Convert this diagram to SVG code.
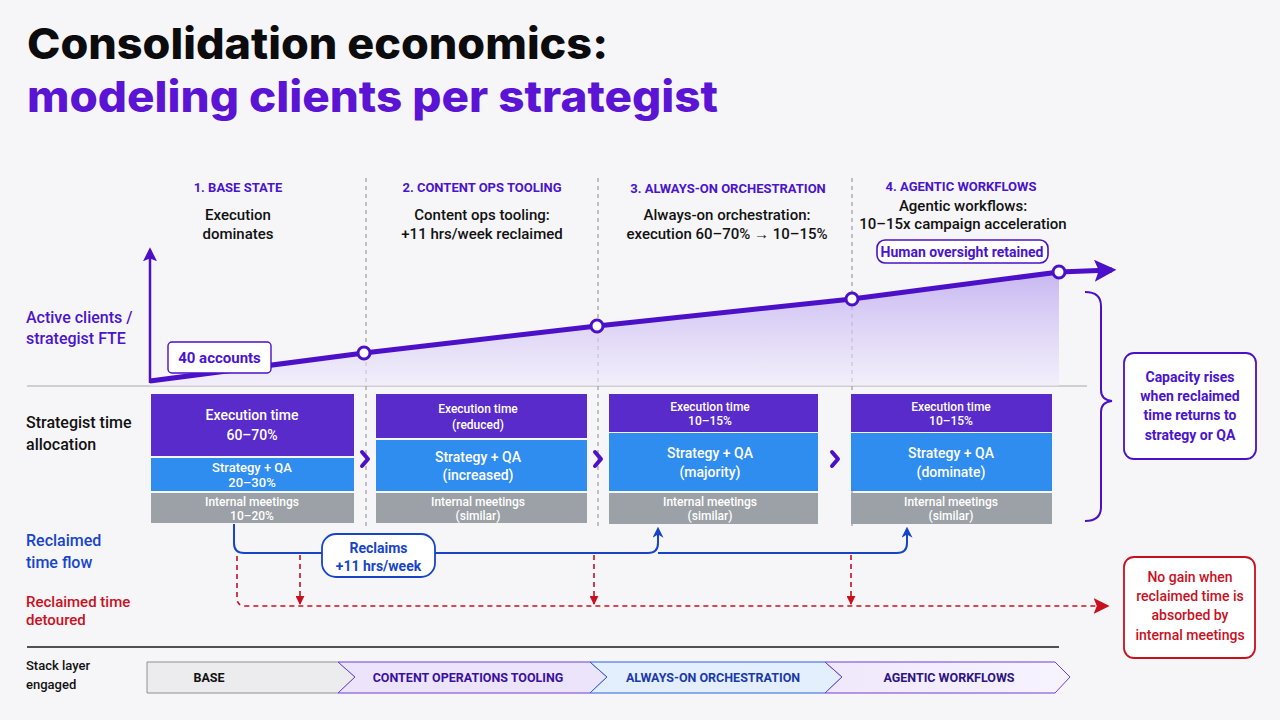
<svg xmlns="http://www.w3.org/2000/svg" width="1280" height="720" viewBox="0 0 1280 720">
<defs>
<linearGradient id="area" x1="0" y1="0" x2="0" y2="1">
<stop offset="0" stop-color="#b9a2ef" stop-opacity="0.75"/>
<stop offset="1" stop-color="#efeafb" stop-opacity="0.6"/>
</linearGradient>
<linearGradient id="agf" x1="0" y1="0" x2="1" y2="0">
<stop offset="0" stop-color="#efe8fc"/>
<stop offset="1" stop-color="#f7f3fe"/>
</linearGradient>
<marker id="mBlue" viewBox="0 0 10 10" refX="7" refY="5" markerWidth="11" markerHeight="11" orient="auto" markerUnits="userSpaceOnUse">
<path d="M0,0 L10,5 L0,10 L3,5 z" fill="#1744c8"/>
</marker>
<marker id="mRed" viewBox="0 0 10 10" refX="9" refY="5" markerWidth="9" markerHeight="9" orient="auto" markerUnits="userSpaceOnUse">
<path d="M0,0 L10,5 L0,10 z" fill="#c8101e"/>
</marker>
<marker id="mRedBig" viewBox="0 0 10 10" refX="9" refY="5" markerWidth="16" markerHeight="16" orient="auto" markerUnits="userSpaceOnUse">
<path d="M0,0 L10,5 L0,10 L2,5 z" fill="#c8101e"/>
</marker>
<marker id="mPurple" viewBox="0 0 10 10" refX="8" refY="5" markerWidth="22" markerHeight="22" orient="auto" markerUnits="userSpaceOnUse">
<path d="M0,0 L10,5 L0,10 L2,5 z" fill="#4b10c8"/>
</marker>
<marker id="mAxis" viewBox="0 0 10 10" refX="8" refY="5" markerWidth="14" markerHeight="14" orient="auto" markerUnits="userSpaceOnUse">
<path d="M0,0 L10,5 L0,10 L2,5 z" fill="#4b10c8"/>
</marker>
<style>
text{font-family:Roboto,"Liberation Sans",sans-serif}
.t1{font-family:Inter,"Liberation Sans",sans-serif;font-weight:800;font-size:43px}
.stage{font-weight:700;font-size:13px;fill:#4a14cc;text-anchor:middle}
.sub{font-size:15px;fill:#111;text-anchor:middle;font-weight:500}
.lab{font-size:16px;font-weight:500}
.w{fill:#fff;text-anchor:middle;font-weight:500}
.sep{stroke:#9a9aa2;stroke-width:1.2;stroke-dasharray:4 4;fill:none}
.exec{fill:#5a2bcb}
.strat{fill:#2f8df0}
.meet{fill:#9ca1a7}
.chev{fill:none;stroke:#4b10c8;stroke-width:4;stroke-linecap:round;stroke-linejoin:round}
.dot{fill:#fff;stroke:#4b10c8;stroke-width:3}
.blue{fill:none;stroke:#1744c8;stroke-width:2}
.red{fill:none;stroke:#c8101e;stroke-width:1.6;stroke-dasharray:5 4}
.stk{font-size:12.5px;font-weight:700;text-anchor:middle}
</style>
</defs>
<rect width="1280" height="720" fill="#f6f6f8"/>

<g id="title">
<text class="t1" x="27" y="59" fill="#0c0c0e" textLength="581" lengthAdjust="spacingAndGlyphs">Consolidation economics:</text>
<text class="t1" x="27" y="112" fill="#5b14d4" textLength="691" lengthAdjust="spacingAndGlyphs">modeling clients per strategist</text>
</g>

<g id="separators">
<line class="sep" x1="366" y1="178" x2="366" y2="527"/>
<line class="sep" x1="598" y1="178" x2="598" y2="527"/>
<line class="sep" x1="852" y1="178" x2="852" y2="527"/>
</g>

<g id="stage1">
<text class="stage" x="238" y="192">1. BASE STATE</text>
<text class="sub" x="238" y="220">Execution</text>
<text class="sub" x="238" y="239">dominates</text>
</g>
<g id="stage2">
<text class="stage" x="482" y="192">2. CONTENT OPS TOOLING</text>
<text class="sub" x="482" y="220">Content ops tooling:</text>
<text class="sub" x="482" y="239">+11 hrs/week reclaimed</text>
</g>
<g id="stage3">
<text class="stage" x="728" y="193">3. ALWAYS-ON ORCHESTRATION</text>
<text class="sub" x="727" y="220">Always-on orchestration:</text>
<text class="sub" x="727" y="239">execution 60–70% → 10–15%</text>
</g>
<g id="stage4">
<text class="stage" x="961" y="191">4. AGENTIC WORKFLOWS</text>
<text class="sub" x="963" y="211">Agentic workflows:</text>
<text class="sub" x="963" y="229">10–15x campaign acceleration</text>
</g>
<g id="oversight">
<rect x="877" y="240" width="171" height="23" rx="8" fill="#fff" stroke="#4b10c8" stroke-width="1.6"/>
<text x="962" y="257" font-size="14" font-weight="700" fill="#4a14cc" text-anchor="middle">Human oversight retained</text>
</g>

<g id="chart">
<line x1="27" y1="386" x2="1087" y2="386" stroke="#a8a8ae" stroke-width="1.2"/>
<polygon points="150,381 364,353 597,326 852,299 1059,272 1059,386 150,386" fill="url(#area)"/>
<line x1="150" y1="383" x2="150" y2="250" stroke="#4b10c8" stroke-width="2.5" marker-end="url(#mAxis)"/>
<polyline points="150,381 364,353 597,326 852,299 1059,272 1112,270" fill="none" stroke="#4b10c8" stroke-width="5" stroke-linejoin="round" marker-end="url(#mPurple)"/>
<circle class="dot" cx="364" cy="353" r="6"/>
<circle class="dot" cx="597" cy="326" r="6"/>
<circle class="dot" cx="852" cy="299" r="6"/>
<circle class="dot" cx="1059" cy="272" r="6"/>
</g>
<g id="accounts">
<rect x="168" y="342" width="103" height="31" rx="4" fill="#fff" stroke="#4b10c8" stroke-width="1.4"/>
<text x="219.5" y="363" font-size="15" font-weight="700" fill="#4a14cc" text-anchor="middle">40 accounts</text>
</g>

<g id="left-labels">
<text class="lab" x="26" y="323" fill="#4a14cc" font-weight="700">Active clients /</text>
<text class="lab" x="26" y="344" fill="#4a14cc" font-weight="700">strategist FTE</text>
<text class="lab" x="26" y="428" fill="#111">Strategist time</text>
<text class="lab" x="26" y="450" fill="#111">allocation</text>
<text class="lab" x="26" y="546" fill="#1744c8">Reclaimed</text>
<text class="lab" x="26" y="568" fill="#1744c8">time flow</text>
<text x="26" y="607" font-size="15" font-weight="500" fill="#c8101e">Reclaimed time</text>
<text x="26" y="625" font-size="15" font-weight="500" fill="#c8101e">detoured</text>
<text x="26" y="670" font-size="13" font-weight="500" fill="#111">Stack layer</text>
<text x="26" y="689" font-size="13" font-weight="500" fill="#111">engaged</text>
</g>

<g id="block1">
<rect class="exec" x="151" y="394" width="203" height="62"/>
<rect class="strat" x="151" y="458" width="203" height="33"/>
<rect class="meet" x="151" y="493" width="203" height="30"/>
<text class="w" x="252" y="420" font-size="14">Execution time</text>
<text class="w" x="252" y="440" font-size="14">60–70%</text>
<text class="w" x="252" y="472" font-size="13">Strategy + QA</text>
<text class="w" x="252" y="487" font-size="13">20–30%</text>
<text class="w" x="252" y="506" font-size="12">Internal meetings</text>
<text class="w" x="252" y="520" font-size="12">10–20%</text>
</g>
<g id="block2">
<rect class="exec" x="376" y="394" width="211" height="44"/>
<rect class="strat" x="376" y="440" width="211" height="51"/>
<rect class="meet" x="376" y="493" width="211" height="30"/>
<text class="w" x="478" y="413" font-size="12">Execution time</text>
<text class="w" x="478" y="429" font-size="12">(reduced)</text>
<text class="w" x="478" y="462" font-size="14">Strategy + QA</text>
<text class="w" x="478" y="480" font-size="14">(increased)</text>
<text class="w" x="478" y="506" font-size="12">Internal meetings</text>
<text class="w" x="478" y="520" font-size="12">(similar)</text>
</g>
<g id="block3">
<rect class="exec" x="609" y="394" width="209" height="38"/>
<rect class="strat" x="609" y="433" width="209" height="58"/>
<rect class="meet" x="609" y="493" width="209" height="31"/>
<text class="w" x="710" y="411" font-size="12">Execution time</text>
<text class="w" x="710" y="425" font-size="12">10–15%</text>
<text class="w" x="710" y="458" font-size="14">Strategy + QA</text>
<text class="w" x="710" y="477" font-size="14">(majority)</text>
<text class="w" x="710" y="506" font-size="12">Internal meetings</text>
<text class="w" x="710" y="520" font-size="12">(similar)</text>
</g>
<g id="block4">
<rect class="exec" x="851" y="394" width="201" height="38"/>
<rect class="strat" x="851" y="433" width="201" height="58"/>
<rect class="meet" x="851" y="493" width="201" height="31"/>
<text class="w" x="951" y="411" font-size="12">Execution time</text>
<text class="w" x="951" y="425" font-size="12">10–15%</text>
<text class="w" x="951" y="458" font-size="14">Strategy + QA</text>
<text class="w" x="951" y="477" font-size="14">(dominate)</text>
<text class="w" x="951" y="506" font-size="12">Internal meetings</text>
<text class="w" x="951" y="520" font-size="12">(similar)</text>
</g>

<g id="connectors">
<polyline class="chev" points="362,452 368,459 362,466"/>
<polyline class="chev" points="595,452 601,459 595,466"/>
<polyline class="chev" points="832,452 838,459 832,466"/>
<path class="blue" d="M234,524 V543 Q234,553 244,553 H648 Q658,553 658,543 V530" marker-end="url(#mBlue)"/>
<path class="blue" d="M658,553 H897 Q907,553 907,543 V530" marker-end="url(#mBlue)"/>
<path class="red" d="M237,556 V598 Q237,606 245,606 H1108" marker-end="url(#mRedBig)"/>
<line class="red" x1="300" y1="555" x2="300" y2="604" marker-end="url(#mRed)"/>
<line class="red" x1="594" y1="555" x2="594" y2="604" marker-end="url(#mRed)"/>
<line class="red" x1="851" y1="555" x2="851" y2="604" marker-end="url(#mRed)"/>
<path d="M1085,292 Q1101,292 1101,306 V390 Q1101,400 1112,401 Q1101,402 1101,412 V507 Q1101,521 1085,521" fill="none" stroke="#4b10c8" stroke-width="2"/>
</g>

<g id="reclaims">
<rect x="322" y="534" width="113" height="43" rx="14" fill="#fff" stroke="#1744c8" stroke-width="1.8"/>
<text x="378.5" y="553" font-size="14" font-weight="700" fill="#1744c8" text-anchor="middle">Reclaims</text>
<text x="378.5" y="571" font-size="14" font-weight="700" fill="#1744c8" text-anchor="middle">+11 hrs/week</text>
</g>

<g id="capacity">
<rect x="1124" y="353" width="132" height="106" rx="10" fill="#fff" stroke="#4b10c8" stroke-width="1.8"/>
<text x="1190" y="382" font-size="14" font-weight="700" fill="#4a14cc" text-anchor="middle">Capacity rises</text>
<text x="1190" y="401" font-size="14" font-weight="700" fill="#4a14cc" text-anchor="middle">when reclaimed</text>
<text x="1190" y="420" font-size="14" font-weight="700" fill="#4a14cc" text-anchor="middle">time returns to</text>
<text x="1190" y="440" font-size="14" font-weight="700" fill="#4a14cc" text-anchor="middle">strategy or QA</text>
</g>

<g id="nogain">
<rect x="1124" y="557" width="131" height="101" rx="10" fill="#fff" stroke="#c8101e" stroke-width="1.8"/>
<text x="1190" y="582" font-size="14" font-weight="500" fill="#c8101e" text-anchor="middle">No gain when</text>
<text x="1190" y="601" font-size="14" font-weight="500" fill="#c8101e" text-anchor="middle">reclaimed time is</text>
<text x="1190" y="620" font-size="14" font-weight="500" fill="#c8101e" text-anchor="middle">absorbed by</text>
<text x="1190" y="640" font-size="14" font-weight="500" fill="#c8101e" text-anchor="middle">internal meetings</text>
</g>

<line x1="27" y1="647" x2="1059" y2="647" stroke="#1a1a1e" stroke-width="1.6"/>

<g id="stack-base">
<polygon points="147,662 338,662 355,677 338,693 147,693" fill="#ececee" stroke="#8e8e96" stroke-width="1"/>
<text class="stk" x="209" y="682" fill="#111">BASE</text>
</g>
<g id="stack-content">
<polygon points="338,662 590,662 607,677 590,693 338,693 355,677" fill="#ece4fb" stroke="#6a3fd6" stroke-width="1"/>
<text class="stk" x="468" y="682" fill="#3a109e">CONTENT OPERATIONS TOOLING</text>
</g>
<g id="stack-always">
<polygon points="590,662 825,662 842,677 825,693 590,693 607,677" fill="#e4effd" stroke="#2a62d8" stroke-width="1"/>
<text class="stk" x="713" y="682" fill="#1a3aa8">ALWAYS-ON ORCHESTRATION</text>
</g>
<g id="stack-agentic">
<polygon points="825,662 1055,662 1070,677 1055,693 825,693 842,677" fill="url(#agf)" stroke="#6a3fd6" stroke-width="1"/>
<text class="stk" x="949" y="682" fill="#2d1580">AGENTIC WORKFLOWS</text>
</g>
</svg>
